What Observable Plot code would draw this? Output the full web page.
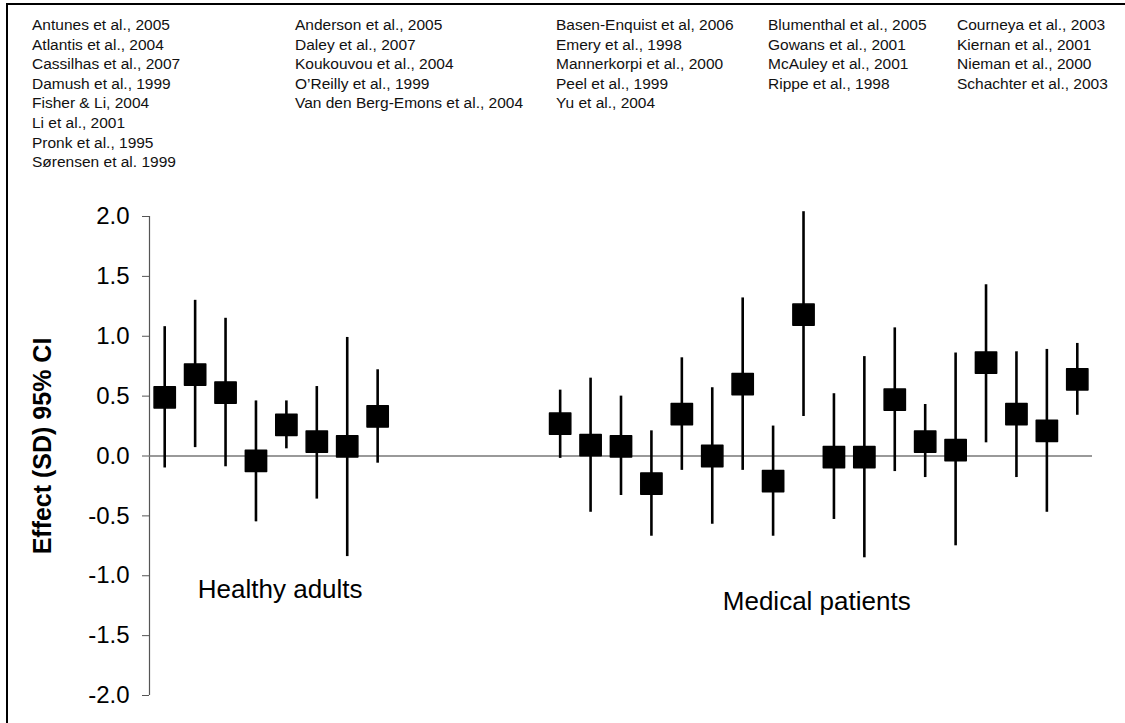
<!DOCTYPE html>
<html>
<head>
<meta charset="utf-8">
<script src="https://cdn.jsdelivr.net/npm/d3@7"></script>
<script src="https://cdn.jsdelivr.net/npm/@observablehq/plot@0.6"></script>
<style>
  html, body { margin: 0; padding: 0; background: #fff; }
  #wrap { position: relative; width: 1125px; height: 723px; overflow: hidden; font-family: "Liberation Sans", Arial, sans-serif; }
  #frame { position: absolute; left: 6px; top: 3px; right: -20px; bottom: -20px; border: 2px solid #000; pointer-events: none; }
  #header { position: relative; height: 180px; }
  .col { position: absolute; top: 15px; font-size: 15.5px; line-height: 19.6px; color: #111; white-space: nowrap; }
  #chart svg { display: block; }
</style>
</head>
<body>
<div id="wrap">
  <div id="header"></div>
  <div id="chart"></div>
  <div id="frame"></div>
</div>
<script>
// ---- Data ----
const healthyStudies = ["Antunes et al., 2005", "Atlantis et al., 2004", "Cassilhas et al., 2007", "Damush et al., 1999",
  "Fisher & Li, 2004", "Li et al., 2001", "Pronk et al., 1995", "Sørensen et al. 1999"];
const healthyEffect = [0.49, 0.68, 0.53, -0.04, 0.26, 0.12, 0.08, 0.33];
const healthyLow    = [-0.10, 0.07, -0.09, -0.55, 0.06, -0.36, -0.84, -0.06];
const healthyHigh   = [1.08, 1.30, 1.15, 0.46, 0.46, 0.58, 0.99, 0.72];

const medicalStudies = ["Anderson et al., 2005", "Basen-Enquist et al, 2006", "Blumenthal et al., 2005", "Courneya et al., 2003",
  "Daley et al., 2007", "Emery et al., 1998", "Gowans et al., 2001", "Kiernan et al., 2001",
  "Koukouvou et al., 2004", "Mannerkorpi et al., 2000", "McAuley et al., 2001", "Nieman et al., 2000",
  "O’Reilly et al., 1999", "Peel et al., 1999", "Rippe et al., 1998", "Schachter et al., 2003",
  "Van den Berg-Emons et al., 2004", "Yu et al., 2004"];
const medicalEffect = [0.27, 0.09, 0.08, -0.23, 0.35, 0.00, 0.60, -0.21, 1.18, -0.01, -0.01, 0.47, 0.12, 0.05, 0.78, 0.35, 0.21, 0.64];
const medicalLow    = [-0.02, -0.47, -0.33, -0.67, -0.12, -0.57, -0.12, -0.67, 0.33, -0.53, -0.85, -0.13, -0.18, -0.75, 0.11, -0.18, -0.47, 0.34];
const medicalHigh   = [0.55, 0.65, 0.50, 0.21, 0.82, 0.57, 1.32, 0.25, 2.04, 0.52, 0.83, 1.07, 0.43, 0.86, 1.43, 0.87, 0.89, 0.94];

const groupNames = ["Healthy adults", "Medical patients"];
const groupLabelY = [-1.12, -1.22];
const yTicks = [-2.0, -1.5, -1.0, -0.5, 0.0, 0.5, 1.0, 1.5, 2.0];
const yLabel = "Effect (SD) 95% CI";

// ---- Header (study names) ----
const header = document.getElementById("header");
const colLefts = [32, 295, 556, 768, 957];
const cols = [healthyStudies, [], [], [], []];
medicalStudies.forEach((s, i) => cols[1 + (i % 4)].push(s));
cols.forEach((list, c) => {
  const d = document.createElement("div");
  d.className = "col";
  d.style.left = colLefts[c] + "px";
  list.forEach((s, i) => {
    if (i) d.appendChild(document.createElement("br"));
    d.appendChild(document.createTextNode(s));
  });
  header.appendChild(d);
});

// ---- Table ----
const gap = 5;
const rows = [
  ...healthyStudies.map((s, i) => ({study: s, group: groupNames[0], pos: i, effect: healthyEffect[i], low: healthyLow[i], high: healthyHigh[i]})),
  ...medicalStudies.map((s, i) => ({study: s, group: groupNames[1], pos: healthyStudies.length + gap + i, effect: medicalEffect[i], low: medicalLow[i], high: medicalHigh[i]}))
];
const nPos = healthyStudies.length + gap + medicalStudies.length;
const groups = groupNames.map((g, k) => {
  const ps = rows.filter(r => r.group === g).map(r => r.pos);
  return {name: g, x: d3.mean(ps), y: groupLabelY[k]};
});

const font = "Liberation Sans, Arial, sans-serif";
const chart = Plot.plot({
  width: 1125,
  height: 543,
  marginLeft: 149,
  marginRight: 33,
  marginTop: 36,
  marginBottom: 28,
  style: {fontFamily: font, background: "white", overflow: "visible"},
  x: {domain: [-0.5, nPos - 0.5], axis: null},
  y: {domain: [-2, 2]},
  marks: [
    Plot.axisY({ticks: yTicks, tickFormat: d => d.toFixed(1), tickSize: 7, tickPadding: 13, fontSize: 24, stroke: "#555", fill: "#000", label: null}),
    Plot.ruleX([-0.5], {y1: -2, y2: 2, stroke: "#555", strokeWidth: 1.2}),
    Plot.ruleY([0], {x1: -0.5, x2: nPos - 0.5, stroke: "#777", strokeWidth: 1.5}),
    Plot.ruleX(rows, {x: "pos", y1: "low", y2: "high", stroke: "#000", strokeWidth: 2.6}),
    Plot.dot(rows, {x: "pos", y: "effect", symbol: "square", r: 12, fill: "#000", stroke: "#000", strokeWidth: 1.5, strokeLinejoin: "round"}),
    Plot.text(groups.slice(0, 1), {x: "x", y: "y", text: "name", fontSize: 26, fill: "#000", lineAnchor: "middle", dx: 9}),
    Plot.text(groups.slice(1), {x: "x", y: "y", text: "name", fontSize: 26, fill: "#000", lineAnchor: "middle", dx: -2}),
    Plot.text([yLabel], {frameAnchor: "left", text: d => d, rotate: -90, dx: -107, dy: -10, fontSize: 25, fontWeight: "bold", fill: "#000", textAnchor: "middle", lineAnchor: "middle"})
  ]
});
document.getElementById("chart").appendChild(chart);
</script>
</body>
</html>
